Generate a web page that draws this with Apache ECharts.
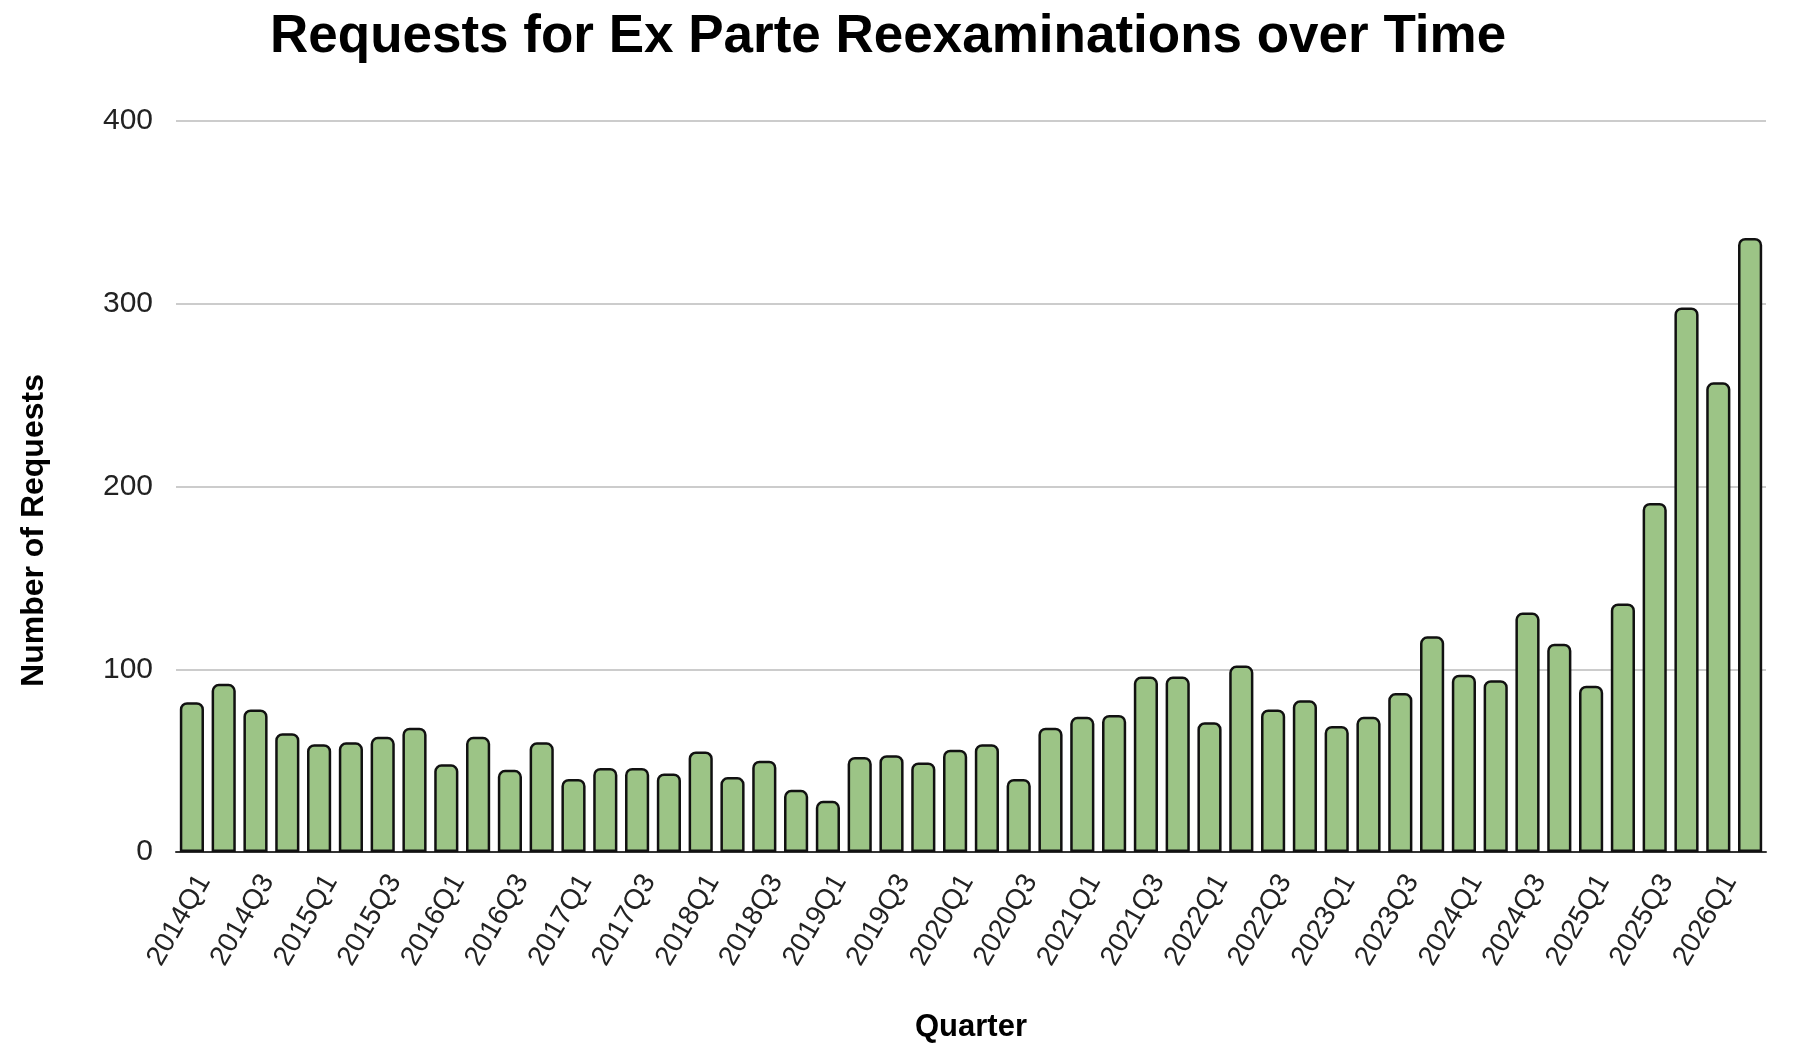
<!DOCTYPE html>
<html>
<head>
<meta charset="utf-8">
<title>Requests for Ex Parte Reexaminations over Time</title>
<script src="https://cdn.jsdelivr.net/npm/echarts@6/dist/echarts.min.js"></script>
<style>
    html, body { margin: 0; padding: 0; background: #fff; }
    #chart { width: 1808px; height: 1054px; }
</style>
</head>
<body>
<div id="chart"></div>
<script>
var quarters = [
    '2014Q1', '2014Q2', '2014Q3', '2014Q4',
    '2015Q1', '2015Q2', '2015Q3', '2015Q4',
    '2016Q1', '2016Q2', '2016Q3', '2016Q4',
    '2017Q1', '2017Q2', '2017Q3', '2017Q4',
    '2018Q1', '2018Q2', '2018Q3', '2018Q4',
    '2019Q1', '2019Q2', '2019Q3', '2019Q4',
    '2020Q1', '2020Q2', '2020Q3', '2020Q4',
    '2021Q1', '2021Q2', '2021Q3', '2021Q4',
    '2022Q1', '2022Q2', '2022Q3', '2022Q4',
    '2023Q1', '2023Q2', '2023Q3', '2023Q4',
    '2024Q1', '2024Q2', '2024Q3', '2024Q4',
    '2025Q1', '2025Q2', '2025Q3', '2025Q4',
    '2026Q1', '2026Q2'
];

var requests = [
    82, 92, 78, 65,
    59, 60, 63, 68,
    48, 63, 45, 60,
    40, 46, 46, 43,
    55, 41, 50, 34,
    28, 52, 53, 49,
    56, 59, 40, 68,
    74, 75, 96, 96,
    71, 102, 78, 83,
    69, 74, 87, 118,
    97, 94, 131, 114,
    91, 136, 191, 298,
    257, 336
];

var yTicks = [0, 100, 200, 300, 400];

var font = '"Liberation Sans", Arial, sans-serif';

var option = {
    backgroundColor: '#ffffff',
    animation: false,
    title: {
        text: 'Requests for Ex Parte Reexaminations over Time',
        left: 265,
        top: 6,
        textStyle: {
            fontFamily: font,
            fontSize: 53,
            fontWeight: 'bold',
            color: '#000'
        }
    },
    grid: {
        left: 176,
        right: 42,
        top: 121,
        bottom: 202
    },
    xAxis: {
        type: 'category',
        data: quarters,
        name: 'Quarter',
        nameLocation: 'middle',
        nameGap: 160,
        nameTextStyle: {
            fontFamily: font,
            fontSize: 31,
            fontWeight: 'bold',
            color: '#000'
        },
        axisTick: { show: false },
        axisLine: { lineStyle: { color: '#333', width: 2 } },
        axisLabel: {
            interval: 1,
            rotate: 60,
            margin: 18,
            verticalAlign: 'top',
            fontFamily: font,
            fontSize: 28,
            color: '#222'
        }
    },
    yAxis: {
        type: 'value',
        min: yTicks[0],
        max: yTicks[yTicks.length - 1],
        interval: 100,
        name: 'Number of Requests',
        nameLocation: 'middle',
        nameRotate: 90,
        nameGap: 126,
        nameTextStyle: {
            fontFamily: font,
            fontSize: 32,
            fontWeight: 'bold',
            color: '#000',
            padding: [0, 88, 0, 0]
        },
        axisLine: { show: false },
        axisTick: { show: false },
        splitLine: { lineStyle: { color: '#cccccc', width: 2 } },
        axisLabel: {
            margin: 23,
            fontFamily: font,
            fontSize: 30,
            color: '#222'
        }
    },
    series: [{
        name: 'Requests',
        type: 'bar',
        data: requests,
        barWidth: '76%',
        itemStyle: {
            color: '#9cc486',
            borderColor: '#111',
            borderWidth: 2.5,
            borderRadius: [6, 6, 0, 0]
        }
    }]
};

var myChart = echarts.init(document.getElementById('chart'));
myChart.setOption(option);
</script>
</body>
</html>
